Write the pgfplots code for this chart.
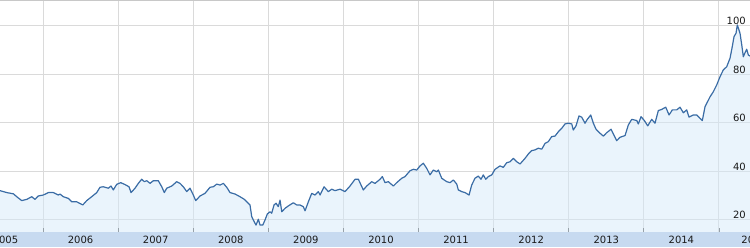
\documentclass[border=0pt]{standalone}
\usepackage{pgfplots}
\pgfplotsset{compat=1.18}
\usepackage{pgfplotstable}
\usepackage{fontspec}
\setmainfont{DejaVu Sans}
\definecolor{linec}{RGB}{58,108,165}
\definecolor{fillc}{RGB}{213,233,249}
\definecolor{bandc}{RGB}{199,218,240}
\definecolor{gridc}{RGB}{218,218,218}
\definecolor{topc}{RGB}{200,200,200}
\definecolor{txtc}{RGB}{25,25,25}

\pgfplotstableread{
t v
2005.427 32.1
2005.517 31.3
2005.605 30.8
2005.650 29.6
2005.716 28.0
2005.783 28.5
2005.850 29.6
2005.893 28.5
2005.937 29.9
2006.004 30.3
2006.071 31.3
2006.137 31.3
2006.204 30.3
2006.226 30.7
2006.270 29.6
2006.337 28.9
2006.382 27.5
2006.449 27.5
2006.529 26.2
2006.582 28.0
2006.648 29.6
2006.715 31.3
2006.759 33.5
2006.803 33.7
2006.870 33.1
2006.905 34.0
2006.936 32.4
2006.981 34.7
2007.035 35.4
2007.092 34.6
2007.145 33.7
2007.172 31.3
2007.225 33.1
2007.269 35.1
2007.314 36.8
2007.349 35.8
2007.381 36.2
2007.425 35.1
2007.469 36.2
2007.535 36.2
2007.581 33.7
2007.615 31.3
2007.647 33.1
2007.714 34.0
2007.780 35.8
2007.824 35.1
2007.868 33.7
2007.914 31.7
2007.957 33.1
2008.001 30.3
2008.033 28.0
2008.091 29.9
2008.157 31.0
2008.224 33.5
2008.268 33.7
2008.313 34.8
2008.357 34.4
2008.401 35.1
2008.446 33.5
2008.490 31.3
2008.557 30.7
2008.623 29.6
2008.681 28.5
2008.734 26.9
2008.756 26.2
2008.779 21.4
2008.800 20.0
2008.836 17.9
2008.867 20.3
2008.890 17.9
2008.926 17.9
2008.956 20.0
2008.987 22.5
2009.023 23.4
2009.045 22.8
2009.076 26.2
2009.103 26.9
2009.133 25.5
2009.156 28.2
2009.179 23.4
2009.222 24.8
2009.266 25.8
2009.333 27.1
2009.378 26.2
2009.422 26.2
2009.466 25.5
2009.489 23.8
2009.533 27.5
2009.578 31.0
2009.622 30.3
2009.666 31.7
2009.689 30.3
2009.742 33.7
2009.799 31.7
2009.844 32.7
2009.888 32.1
2009.955 32.7
2010.021 31.7
2010.088 34.0
2010.155 36.8
2010.199 36.8
2010.265 32.4
2010.310 34.0
2010.377 35.8
2010.421 35.1
2010.488 36.8
2010.518 37.9
2010.554 35.4
2010.598 35.8
2010.665 34.0
2010.710 35.4
2010.776 37.2
2010.820 37.9
2010.887 40.3
2010.931 40.9
2010.976 40.6
2011.020 42.3
2011.064 43.4
2011.109 41.3
2011.153 38.6
2011.197 40.6
2011.242 39.9
2011.264 40.6
2011.309 37.2
2011.376 35.8
2011.420 35.4
2011.464 36.5
2011.509 34.8
2011.530 32.4
2011.575 31.7
2011.619 31.3
2011.673 30.3
2011.708 34.4
2011.752 37.2
2011.796 38.1
2011.832 36.8
2011.863 38.6
2011.895 36.8
2011.929 37.9
2011.975 38.6
2012.019 40.9
2012.085 42.3
2012.129 41.7
2012.174 43.6
2012.218 44.0
2012.262 45.4
2012.308 44.0
2012.352 43.1
2012.418 45.4
2012.462 47.2
2012.507 48.6
2012.551 48.9
2012.595 49.6
2012.641 49.2
2012.685 51.6
2012.728 52.3
2012.774 54.4
2012.818 54.6
2012.862 56.4
2012.907 57.8
2012.951 59.6
2012.995 59.9
2013.040 59.6
2013.061 57.1
2013.097 58.8
2013.137 62.9
2013.173 62.4
2013.217 59.9
2013.248 61.5
2013.293 63.3
2013.328 59.9
2013.364 57.4
2013.408 56.0
2013.461 54.6
2013.506 56.0
2013.564 57.4
2013.594 55.5
2013.639 52.7
2013.683 54.1
2013.750 54.8
2013.794 59.2
2013.839 61.5
2013.906 61.0
2013.927 59.6
2013.963 62.6
2014.007 61.0
2014.052 58.8
2014.105 61.5
2014.149 59.9
2014.193 65.1
2014.238 65.6
2014.292 66.5
2014.336 63.3
2014.380 65.4
2014.438 65.4
2014.482 66.5
2014.526 64.2
2014.571 65.4
2014.602 62.4
2014.659 63.3
2014.705 63.3
2014.748 61.9
2014.779 61.0
2014.815 66.7
2014.882 70.8
2014.926 72.9
2014.971 75.7
2015.015 79.1
2015.059 81.9
2015.104 83.2
2015.148 86.7
2015.178 91.5
2015.201 95.6
2015.228 97.0
2015.245 100.4
2015.281 97.0
2015.304 92.2
2015.325 87.3
2015.348 89.0
2015.370 90.4
2015.392 88.0
2015.414 87.6
}\pricedata

\pgfplotsset{
  baseax/.style={
    at={(0,0)}, anchor=south west,
    width=750pt, height=232pt, scale only axis,
    xmin=2005.427, xmax=2015.414, ymin=15.05, ymax=110.7,
    axis line style={draw=none},
    tick label style={font=\fontsize{10}{12}\selectfont, text=txtc},
    /pgf/number format/assume math mode=true,
  }
}

\begin{document}
\begin{tikzpicture}
\useasboundingbox (0,-15pt) rectangle (750pt,232pt);
\clip (0,-15pt) rectangle (750pt,232pt);
\fill[bandc] (0,-15pt) rectangle (750pt,0pt);
\begin{axis}[
  baseax,
  xtick={2006,2007,2008,2009,2010,2011,2012,2013,2014,2015},
  xticklabels={},
  ytick={20,40,60,80,100},
  yticklabels={},
  tick align=inside,
  tick pos=left,
  major tick length=4pt,
  x tick style={color=black!65, line width=0.8pt},
  y tick style={draw=none},
  grid=major,
  major grid style={gridc, line width=1pt},
  extra x ticks={2005.5,2006.5,2007.5,2008.5,2009.5,2010.5,2011.5,2012.5,2013.5,2014.5,2015.41},
  extra x tick labels={2005,2006,2007,2008,2009,2010,2011,2012,2013,2014,\hspace*{9pt}2015},
  extra x tick style={grid=none, major tick length=0pt,
    tick label style={anchor=center, yshift=-7.5pt}},
]
\addplot[draw=none, fill=fillc, fill opacity=0.5] table[x=t,y=v]{\pricedata} \closedcycle;
\addplot[linec, line width=1.2pt, line join=round] table[x=t,y=v]{\pricedata};
\end{axis}
\begin{axis}[
  baseax,
  xtick=\empty,
  ytick={20,40,60,80,100},
  y tick style={draw=none},
  yticklabel pos=right,
  yticklabel style={anchor=south east, inner sep=1pt, xshift=-3pt},
]
\end{axis}
\draw[topc, line width=1pt] (0,231.5pt) -- (750pt,231.5pt);
\end{tikzpicture}
\end{document}
